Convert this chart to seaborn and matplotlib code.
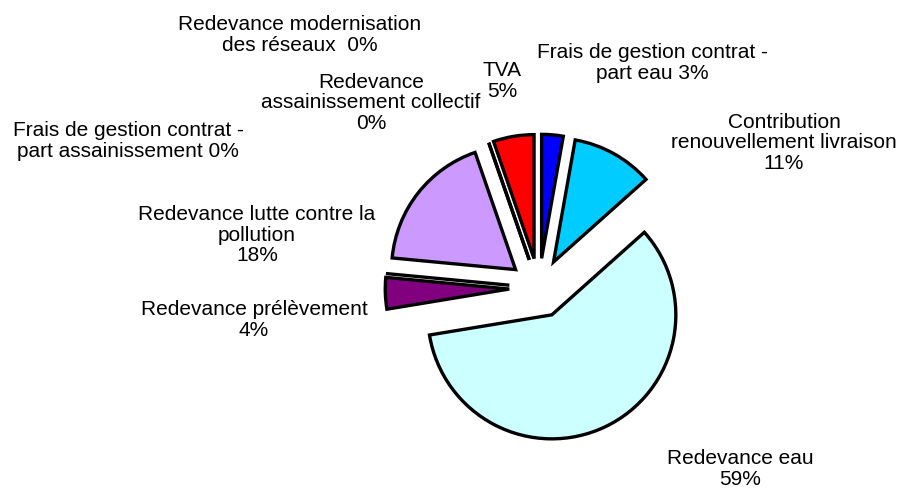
import matplotlib
matplotlib.use("Agg")
import matplotlib.pyplot as plt
import seaborn as sns

# ---- data (clockwise from 12 o'clock) ----
categories = [
    "Frais de gestion contrat -\npart eau",
    "Contribution\nrenouvellement livraison",
    "Redevance eau",
    "Redevance prélèvement",
    "Frais de gestion contrat -\npart assainissement",
    "Redevance lutte contre la\npollution",
    "Redevance\nassainissement collectif",
    "Redevance modernisation\ndes réseaux ",
    "TVA",
]
shares = [2.8, 10.6, 59.0, 4.1, 0.0, 18.2, 0.0, 0.0, 5.3]
colors = ["#0000FF", "#00CCFF", "#CCFFFF", "#800080", "#FFFFFF",
          "#CC99FF", "#FFFFFF", "#FFFFFF", "#FF0000"]

# ---- layout (label separators and label centres in pixels) ----
label_sep = [" ", "\n", "\n", "\n", " ", "\n", "\n", " ", "\n"]
label_px = [(652, 63), (784, 143), (740, 469), (254, 320), (128, 141),
            (257, 235), (371, 103), (300, 35), (502, 81)]
W, H = 900, 488
CX, CY, R = 539, 288, 124  # pie centre / radius in pixels

sns.set_theme(style="white")
plt.rcParams["font.family"] = ["Liberation Sans", "DejaVu Sans"]

fig = plt.figure(figsize=(W / 100, H / 100), dpi=100)
fig.patch.set_facecolor("white")
ax = fig.add_axes([0, 0, 1, 1])

ax.pie(shares, startangle=90, counterclock=False, colors=colors,
       explode=[0.24] * len(shares), radius=1.0, center=(0, 0),
       wedgeprops=dict(edgecolor="black", linewidth=2.4, joinstyle="miter"))

ax.set_xlim(-CX / R, (W - CX) / R)
ax.set_ylim(-(H - CY) / R, CY / R)
ax.set_aspect("equal")
ax.axis("off")

total = sum(shares)
for cat, val, sep, (px, py) in zip(categories, shares, label_sep, label_px):
    pct = int(round(val / total * 100))
    ax.text((px - CX) / R, (CY - py) / R, f"{cat}{sep}{pct}%",
            ha="center", va="center", multialignment="center",
            fontsize=15, color="black", linespacing=1.12)

fig.savefig("out.png", dpi=100, facecolor="white")
